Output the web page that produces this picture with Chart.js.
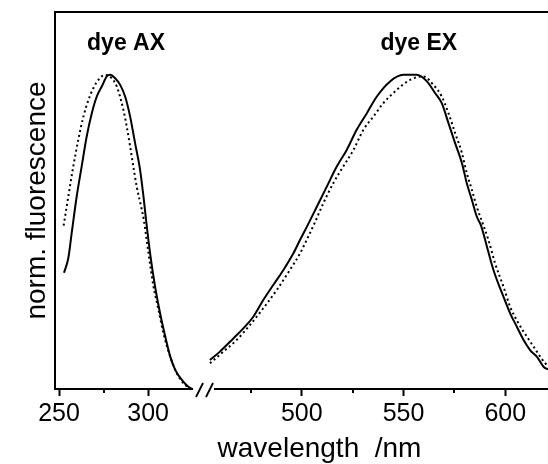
<!DOCTYPE html>
<html>
<head>
<meta charset="utf-8">
<script src="https://cdn.jsdelivr.net/npm/chart.js@4"></script>
<style>
  html, body { margin: 0; padding: 0; background: #fff; }
  #wrap { width: 548px; height: 464px; }
</style>
</head>
<body>
<div id="wrap"><canvas id="spectra"></canvas></div>
<script>
// Emission spectra, normalised; solid = measured, dotted = reference
const axSolidNm  = [252.8, 255.2, 257.1, 259.9, 262.7, 265.5, 268.4, 271.2, 274.0, 276.8, 278.7, 281.5, 284.3, 287.1, 289.9, 292.7, 295.5, 297.4, 298.8, 301.1, 303.9, 306.7, 309.6, 312.4, 315.2, 318.9, 322.6, 324.9];
const axSolidVal = [0.37, 0.416, 0.496, 0.612, 0.708, 0.803, 0.878, 0.931, 0.963, 0.995, 1.0, 0.989, 0.968, 0.931, 0.867, 0.782, 0.697, 0.612, 0.54, 0.432, 0.326, 0.241, 0.167, 0.103, 0.061, 0.029, 0.007, 0.0];

const axDotNm  = [252.6, 255.2, 258.0, 260.8, 263.7, 266.5, 269.3, 272.1, 275.8, 279.6, 282.4, 286.1, 288.0, 289.9, 291.7, 293.6, 296.1, 297.6, 300.2, 303.0, 305.8, 308.6, 312.4, 316.1, 319.8, 323.6];
const axDotVal = [0.52, 0.612, 0.708, 0.793, 0.867, 0.92, 0.958, 0.984, 1.0, 0.989, 0.963, 0.889, 0.835, 0.772, 0.708, 0.644, 0.58, 0.538, 0.432, 0.326, 0.252, 0.177, 0.103, 0.05, 0.018, 0.0];

const exSolidNm  = [454.9, 459.8, 466.4, 471.3, 476.2, 481.1, 486.0, 491.0, 495.9, 499.2, 502.8, 507.4, 512.3, 517.2, 522.1, 527.0, 532.0, 536.9, 543.4, 549.9, 556.5, 561.5, 565.5, 568.8, 572.1, 575.4, 578.7, 581.1, 583.6, 586.0, 588.1, 591.0, 594.2, 599.1, 602.4, 605.7, 609.0, 612.2, 615.5, 618.8, 621.0];
const exSolidVal = [0.092, 0.119, 0.161, 0.193, 0.23, 0.283, 0.331, 0.379, 0.432, 0.475, 0.52, 0.58, 0.644, 0.708, 0.761, 0.825, 0.878, 0.931, 0.979, 1.0, 1.0, 0.979, 0.942, 0.91, 0.846, 0.782, 0.719, 0.655, 0.602, 0.549, 0.52, 0.453, 0.379, 0.294, 0.241, 0.198, 0.156, 0.124, 0.103, 0.071, 0.062];

const exDotNm  = [454.9, 461.5, 468.0, 474.6, 481.1, 487.7, 494.2, 499.2, 503.2, 506.1, 510.6, 515.5, 520.4, 525.4, 530.3, 535.2, 540.1, 546.7, 553.2, 559.8, 564.7, 568.8, 572.1, 575.4, 578.7, 581.1, 583.6, 586.0, 589.3, 591.7, 595.0, 599.1, 602.4, 606.5, 610.6, 613.9, 617.2, 619.6, 621.0];
const exDotVal = [0.082, 0.119, 0.156, 0.204, 0.257, 0.315, 0.379, 0.432, 0.485, 0.525, 0.591, 0.655, 0.708, 0.761, 0.825, 0.867, 0.91, 0.952, 0.984, 0.995, 0.968, 0.931, 0.878, 0.814, 0.751, 0.687, 0.634, 0.58, 0.52, 0.475, 0.4, 0.326, 0.262, 0.209, 0.167, 0.135, 0.103, 0.082, 0.075];

// axis ticks (nm)
const majorTicks = [250, 300, 500, 550, 600];
const minorTicks = [275, 475, 525, 575];

const peakLabels = ['dye AX', 'dye EX'];

const FONT = "'Liberation Sans', Arial, Helvetica, sans-serif";

function toPoints(xs, ys) {
  return xs.map((x, i) => ({ x: x, y: ys[i] }));
}

// Linear scale with a cut in the middle: each segment gets its own share of the width
class BrokenScale extends Chart.LinearScale {
  buildTicks() {
    const o = this.options;
    const t = o.majorValues.map(v => ({ value: v, major: true }))
      .concat(o.minorValues.map(v => ({ value: v, major: false })));
    return t.sort((a, b) => a.value - b.value);
  }
  _segs() {
    return this.options.segments.map(s => ({ min: s.min, max: s.max, start: s.start, end: s.end }));
  }
  getPixelForValue(value) {
    const segs = this._segs();
    let s = segs[segs.length - 1];
    for (const seg of segs) {
      if (value <= seg.max) { s = seg; break; }
    }
    const f = s.start + (value - s.min) / (s.max - s.min) * (s.end - s.start);
    return this.left + f * this.width;
  }
  getValueForPixel(pixel) {
    const f = (pixel - this.left) / this.width;
    const segs = this._segs();
    let s = segs[segs.length - 1];
    for (const seg of segs) {
      if (f <= seg.end) { s = seg; break; }
    }
    return s.min + (f - s.start) / (s.end - s.start) * (s.max - s.min);
  }
}
BrokenScale.id = 'broken';
BrokenScale.defaults = Chart.LinearScale.defaults;
Chart.register(BrokenScale);

const xSegments = [
  { min: 247.75, max: 326.3, start: 0, end: 0.284 },
  { min: 456.4, max: 621.0, start: 0.3205, end: 1 }
];

// frame, broken bottom axis, minor ticks, peak names and the x title
const decorations = {
  id: 'decorations',
  afterDraw(chart) {
    const { ctx, chartArea: a } = chart;
    const x = chart.scales.x, y = chart.scales.y;
    ctx.save();
    ctx.strokeStyle = '#000';
    ctx.lineWidth = 2;
    ctx.lineCap = 'butt';

    ctx.beginPath();
    ctx.moveTo(a.left, a.bottom + 1);
    ctx.lineTo(a.left, a.top);
    ctx.lineTo(a.right, a.top);
    ctx.stroke();

    const gl = x.getPixelForValue(xSegments[0].max);
    const gr = x.getPixelForValue(xSegments[1].min);
    ctx.beginPath();
    ctx.moveTo(a.left, a.bottom);
    ctx.lineTo(gl - 2, a.bottom);
    ctx.moveTo(gr + 1, a.bottom);
    ctx.lineTo(a.right, a.bottom);
    ctx.stroke();

    // the "//" break mark
    ctx.lineWidth = 1.8;
    ctx.beginPath();
    ctx.moveTo(gl + 1, a.bottom + 8);
    ctx.lineTo(gl + 8, a.bottom - 6);
    ctx.moveTo(gl + 11, a.bottom + 8);
    ctx.lineTo(gl + 18, a.bottom - 6);
    ctx.stroke();

    ctx.lineWidth = 2;
    ctx.beginPath();
    x.ticks.forEach(t => {
      if (t.major) return;
      const px = Math.round(x.getPixelForValue(t.value));
      ctx.moveTo(px, a.bottom);
      ctx.lineTo(px, a.bottom + 4);
    });
    ctx.stroke();

    ctx.fillStyle = '#000';
    ctx.textAlign = 'center';
    ctx.textBaseline = 'middle';
    ctx.font = 'bold 23px ' + FONT;
    const labelAt = [[287.6, 1.1], [557.5, 1.1]];
    peakLabels.forEach((txt, i) => {
      ctx.fillText(txt, x.getPixelForValue(labelAt[i][0]), y.getPixelForValue(labelAt[i][1]));
    });

    ctx.font = '28px ' + FONT;
    ctx.textBaseline = 'alphabetic';
    ctx.fillText('wavelength  /nm', (a.left + a.right) / 2 + 18, 457);
    ctx.restore();
  }
};

const solid = { borderColor: '#000', borderWidth: 2, pointRadius: 0, cubicInterpolationMode: 'monotone', fill: false };
const dotted = { borderColor: '#000', borderWidth: 2, borderDash: [2, 3], pointRadius: 0, cubicInterpolationMode: 'monotone', fill: false };

new Chart(document.getElementById('spectra'), {
  type: 'line',
  data: {
    datasets: [
      Object.assign({ label: 'AX', data: toPoints(axSolidNm, axSolidVal) }, solid),
      Object.assign({ label: 'AX ref', data: toPoints(axDotNm, axDotVal) }, dotted),
      Object.assign({ label: 'EX', data: toPoints(exSolidNm, exSolidVal) }, solid),
      Object.assign({ label: 'EX ref', data: toPoints(exDotNm, exDotVal) }, dotted)
    ]
  },
  options: {
    responsive: true,
    maintainAspectRatio: false,
    animation: false,
    layout: { padding: { top: 12, right: 0, bottom: 0, left: 0 } },
    plugins: { legend: { display: false }, tooltip: { enabled: false } },
    scales: {
      x: {
        type: 'broken',
        min: 247.75,
        max: 621,
        segments: xSegments,
        majorValues: majorTicks,
        minorValues: minorTicks,
        border: { display: false },
        grid: {
          display: true,
          drawOnChartArea: false,
          drawTicks: true,
          tickLength: 7,
          tickWidth: 2,
          tickColor: c => (c.tick && c.tick.major) ? '#000' : 'rgba(0,0,0,0)'
        },
        ticks: {
          autoSkip: false,
          maxRotation: 0,
          padding: 3,
          color: '#000',
          font: { family: FONT, size: 25 },
          callback: (v, i, ts) => ts[i].major ? String(v) : ''
        },
        afterFit: s => { s.height = 75; }
      },
      y: {
        min: 0,
        max: 1.2,
        border: { display: false },
        grid: { display: false },
        ticks: { display: false },
        title: {
          display: true,
          text: 'norm. fluorescence',
          color: '#000',
          font: { family: FONT, size: 28 },
          padding: { top: 20, bottom: 0 }
        },
        afterFit: s => { s.width = 55; }
      }
    }
  },
  plugins: [decorations]
});
</script>
</body>
</html>
